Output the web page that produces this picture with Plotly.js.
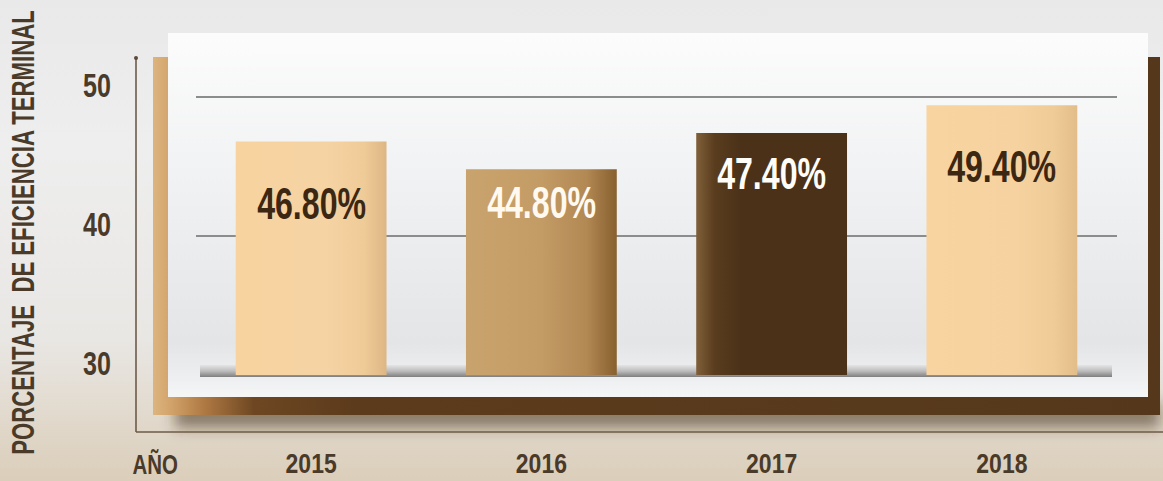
<!DOCTYPE html>
<html>
<head>
<meta charset="utf-8">
<script src="https://cdn.plot.ly/plotly-3.0.1.min.js"></script>
<style>
  html, body { margin: 0; padding: 0; }
  body {
    width: 1163px; height: 481px; overflow: hidden;
    background: linear-gradient(to bottom, #E9E9E9 0%, #EEEEEE 30%, #E9E7E4 70%, #DBCEBA 100%);
  }
  #chart { width: 1163px; height: 481px; }
</style>
</head>
<body>
<div id="chart"></div>
<script>
// ---- data ----
const years = ["2015", "2016", "2017", "2018"];
const efficiency = [46.8, 44.8, 47.4, 49.4];
const valueLabels = ["46.80%", "44.80%", "47.40%", "49.40%"];
const yTickVals = [30, 40, 50];
const yTickText = ["30", "40", "50"];
const yTitle = "PORCENTAJE  DE EFICIENCIA TERMINAL";
const xTitle = "AÑO";

// ---- style ----
const FONT = "'Liberation Sans', Arial, sans-serif";
const INK = "#4A3A29";
const W = 1163, H = 481;
const M = { l: 196, r: W - 1117, t: 90, b: H - 375 };
const PW = W - M.l - M.r, PH = H - M.t - M.b;
const px = x => (x - M.l) / PW;          // pixel -> paper x
const py = y => (H - M.b - y) / PH;      // pixel -> paper y
const labelColors = ["#3C2713", "#FFF9EF", "#FFFDF8", "#3C2713"];
const labelDrop = [62, 33, 40, 61];

function rect(x0, y0, x1, y1, fill, layer) {
  return { type: "rect", xref: "paper", yref: "paper", x0: px(x0), x1: px(x1), y0: py(y1), y1: py(y0),
           fillcolor: fill, line: { width: 0 }, layer: layer || "below" };
}
function line(x0, y0, x1, y1, color, w) {
  return { type: "line", xref: "paper", yref: "paper", x0: px(x0), x1: px(x1), y0: py(y0), y1: py(y1),
           line: { color: color, width: w }, layer: "below" };
}

const shapes = [
  rect(175, 402, 1160, 428, "rgba(70,48,25,0.55)"),     // 0 shadow
  rect(153, 57, 1160, 415, "#5A3A1B"),                  // 1 brown back panel
  rect(168, 33, 1148, 397, "#F2F3F4"),                  // 2 white panel
  line(136, 58, 136, 432, "#6C5B49", 1.6),               // 3 axis vertical
  line(136, 432, 1163, 432, "#6C5B49", 1.6),             // 4 axis horizontal
  rect(200, 365, 1112, 377, "#B9B9B9", "between"),      // 5 floor band
  { type: "circle", xref: "paper", yref: "paper", x0: px(134), x1: px(138), y0: py(56), y1: py(60),
    fillcolor: "#5A4A3A", line: { width: 0 }, layer: "below" }
];

const annotations = years.map((yr, i) => ({
  x: i, y: efficiency[i], xref: "x", yref: "y", text: valueLabels[i], showarrow: false,
  xanchor: "center", yanchor: "middle", yshift: -labelDrop[i],
  font: { family: FONT, size: 44, color: labelColors[i], weight: 700 }
}));
annotations.push({
  xref: "paper", yref: "paper", x: px(155), y: py(464), text: xTitle, showarrow: false,
  xanchor: "center", yanchor: "middle",
  font: { family: FONT, size: 28, color: INK, weight: 700 }
});

const trace = {
  type: "bar", x: years, y: efficiency,
  marker: { color: ["#F6D19E", "#C19863", "#4B3219", "#F6D19E"], line: { width: 0 } },
  hoverinfo: "none", textposition: "none"
};

const layout = {
  width: W, height: H, margin: M,
  paper_bgcolor: "rgba(0,0,0,0)", plot_bgcolor: "rgba(0,0,0,0)",
  showlegend: false, bargap: 0.345,
  font: { family: FONT, color: INK },
  xaxis: {
    type: "category", range: [-0.5, 3.5], showgrid: false, zeroline: false, showline: false,
    ticks: "", ticklabelstandoff: 69,
    tickfont: { family: FONT, size: 28, color: INK, weight: 700 }
  },
  yaxis: {
    range: [30, 50.5], tickvals: yTickVals, ticktext: yTickText,
    showgrid: true, gridcolor: "#8C8C8C", gridwidth: 1.5, zeroline: false, showline: false,
    ticks: "", ticklabelstandoff: 84, ticklabelshift: -12,
    tickfont: { family: FONT, size: 33, color: INK, weight: 700 },
    title: { text: yTitle, standoff: 30, font: { family: FONT, size: 31, color: INK, weight: 700 } }
  },
  shapes: shapes, annotations: annotations
};

Plotly.newPlot("chart", [trace], layout, { displayModeBar: false, staticPlot: true }).then(gd => {
  const svg = gd.querySelector("svg.main-svg");
  const NS = "http://www.w3.org/2000/svg";
  let defs = svg.querySelector("defs");
  function grad(id, stops, vertical) {
    const g = document.createElementNS(NS, "linearGradient");
    g.setAttribute("id", id);
    g.setAttribute("x1", "0"); g.setAttribute("y1", "0");
    g.setAttribute("x2", vertical ? "0" : "1"); g.setAttribute("y2", vertical ? "1" : "0");
    stops.forEach(s => {
      const st = document.createElementNS(NS, "stop");
      st.setAttribute("offset", s[0]); st.setAttribute("stop-color", s[1]);
      g.appendChild(st);
    });
    defs.appendChild(g);
  }
  grad("gb0", [["0", "#F8D3A0"], ["0.6", "#F6D3A3"], ["0.85", "#EFCB98"], ["1", "#DDB684"]]);
  grad("gb1", [["0", "#C9A36D"], ["0.5", "#C39B65"], ["0.8", "#B28853"], ["1", "#87602F"]]);
  grad("gb2", [["0", "#80603A"], ["0.12", "#5A3D1E"], ["0.3", "#4A3118"], ["1", "#4A3118"]]);
  grad("gb3", [["0", "#F8D4A1"], ["0.6", "#F6D2A0"], ["0.85", "#EFCB97"], ["1", "#E2BD89"]]);
  grad("gbrown", [["0", "#DDB47F"], ["0.015", "#D4A66E"], ["0.05", "#B07A43"], ["0.1", "#6E4722"], ["0.2", "#5C3B1C"], ["1", "#55381B"]]);
  grad("gwhite", [["0", "#FCFCFC"], ["0.35", "#F2F3F4"], ["0.85", "#E3E5E7"], ["0.95", "#EDEFF1"], ["1", "#F6F6F6"]], true);
  grad("gfloor", [["0", "#E4E4E4"], ["0.5", "#BDBDBD"], ["1", "#7E7E7E"]], true);
  const f = document.createElementNS(NS, "filter");
  f.setAttribute("id", "blurSh"); f.setAttribute("x", "-10%"); f.setAttribute("y", "-100%");
  f.setAttribute("width", "120%"); f.setAttribute("height", "300%");
  const b = document.createElementNS(NS, "feGaussianBlur"); b.setAttribute("stdDeviation", "7");
  f.appendChild(b); defs.appendChild(f);

  gd.querySelectorAll(".shapelayer path").forEach(p => {
    const i = +p.getAttribute("data-index");
    if (i === 0) p.setAttribute("filter", "url(#blurSh)");
    if (i === 1) p.style.fill = "url(#gbrown)";
    if (i === 2) p.style.fill = "url(#gwhite)";
    if (i === 5) p.style.fill = "url(#gfloor)";
  });
  gd.querySelectorAll(".trace.bars .point path").forEach((p, i) => { p.style.fill = "url(#gb" + i + ")"; });

  // condensed lettering, like the reference's narrow typeface
  function squeeze(sel, k) {
    gd.querySelectorAll(sel).forEach(t => {
      const L = t.getComputedTextLength();
      if (L > 0) { t.setAttribute("textLength", (L * k).toFixed(1)); t.setAttribute("lengthAdjust", "spacingAndGlyphs"); }
    });
  }
  squeeze(".annotation-text", 0.73);
  squeeze(".xtick text", 0.82);
  squeeze(".ytick text", 0.76);
  // y title: condense along its own (rotated) direction with a transform
  gd.querySelectorAll(".g-ytitle text").forEach(t => {
    const x = parseFloat(t.getAttribute("x")), y = parseFloat(t.getAttribute("y"));
    const k = 0.715;
    const tr = t.getAttribute("transform") || "";
    t.setAttribute("transform", tr + ` translate(${x},${y}) scale(${k},1) translate(${-x},${-y})`);
  });
});
</script>
</body>
</html>
